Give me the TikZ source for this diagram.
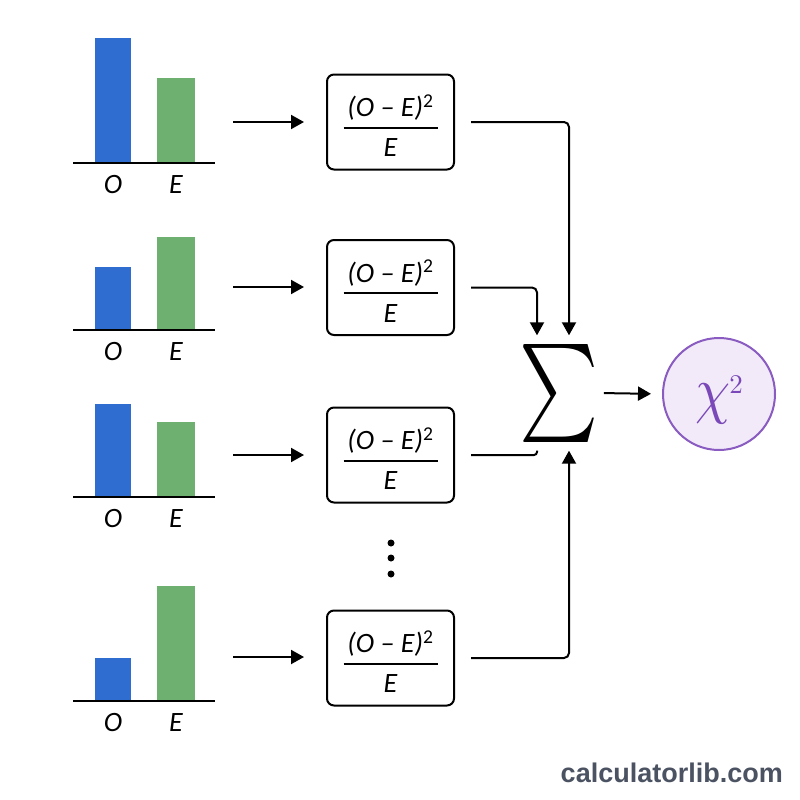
\documentclass[tikz,border=0pt]{standalone}
\usepackage{fontspec}
\usepackage{graphicx}
\newfontfamily\carl{Carlito}
\newfontfamily\wmfont{Liberation Sans}
\usetikzlibrary{arrows.meta}
\definecolor{barblue}{HTML}{2F6DD0}
\definecolor{bargreen}{HTML}{6DB070}
\definecolor{chiline}{HTML}{8A5CC2}
\definecolor{chifill}{HTML}{F2EAF9}
\definecolor{chitext}{HTML}{7A48B8}
\definecolor{wmgray}{HTML}{4B5262}
\newcommand\frm{\rule{0pt}{29pt}(O – E)\textsuperscript{\upshape 2}\\[-18pt]\rule{94pt}{2pt}\\[-2pt]E}
\begin{document}
\begin{tikzpicture}[x=1pt,y=-1pt,
  arr/.style={line width=2pt,-{Triangle[length=13pt,width=14pt]}},
  link/.style={line width=2pt,rounded corners=5pt},
  fbox/.style={draw,line width=2pt,rounded corners=7pt,minimum width=127pt,minimum height=95pt,inner sep=0pt,align=center,font=\carl\fontsize{28}{30}\selectfont\itshape},
  ax/.style={line width=2pt},
  lbl/.style={font=\carl\fontsize{28}{30}\selectfont\itshape,inner sep=0pt}
]
\useasboundingbox[fill=white] (0,0) rectangle (800,800);
\foreach \i/\base/\bt/\gt/\ay/\by in {1/163/38/78/122/122, 2/330/267/237/287/287.5, 3/497/404/422/455/455, 4/701/658/586/657/658}{
  \fill[barblue] (95,\base) rectangle (131,\bt);
  \fill[bargreen] (157,\base) rectangle (195,\gt);
  \draw[ax] (73,\base) -- (215,\base);
  \node[lbl] (o\i) at (113,\base+22) {O};
  \node[lbl] (e\i) at (176,\base+22) {E};
  \coordinate (c\i) at (233,\ay);
  \node[fbox] (b\i) at (390.5,\by) {\frm};
  \draw[arr,shorten >=22pt] (c\i) -- (c\i -| b\i.west);
}
\node[inner sep=0pt,minimum width=74pt,minimum height=115pt] (sig) at (559,393) {\scalebox{7.5}[9.8]{$\textstyle\sum$}};
\node[circle,draw=chiline,fill=chifill,line width=2pt,minimum size=112pt,inner sep=0pt] (chi) at (719,394) {};
\node[text=chitext,inner sep=0pt] (chilbl) at (719,400) {\scalebox{5.6}[6.4]{$\chi$}\hspace{-1pt}\raisebox{18pt}{\scalebox{2.7}{2}}};
\draw[link,arr,shorten <=16pt] (b1.east) -| ([xshift=10pt]sig.north);
\draw[link,arr,shorten <=16pt] (b2.east) -| ([xshift=-22pt]sig.north);
\draw[line width=2pt,rounded corners=3pt,shorten <=16pt] (b3.east) -| ([xshift=-22pt]sig.south);
\draw[link,arr,shorten <=16pt] (b4.east) -| ([xshift=10pt]sig.south);
\draw[arr,shorten <=5pt,shorten >=11pt] (sig.east) -- (chi.west);
\fill (391,543) circle (3.5) (391,558) circle (3.5) (391,574) circle (3.5);
\node[anchor=east,inner sep=0pt,text=wmgray,font=\wmfont\bfseries\fontsize{27}{27}\selectfont] (wm) at (783,773) {calculatorlib.com};
\end{tikzpicture}
\end{document}
